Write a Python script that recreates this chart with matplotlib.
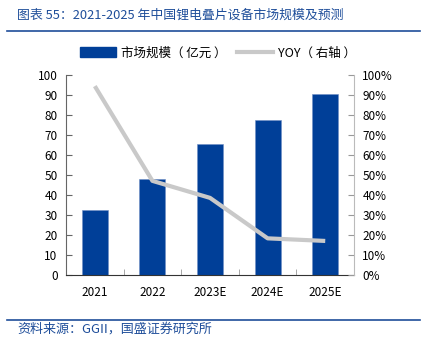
import matplotlib
matplotlib.use("Agg")
import matplotlib.pyplot as plt
from matplotlib.lines import Line2D
from matplotlib.ticker import PercentFormatter, FixedLocator

plt.rcParams['font.family'] = ['Noto Sans CJK SC', 'DejaVu Sans']

# data
years = ['2021', '2022', '2023E', '2024E', '2025E']
market = [32.5, 48, 65.5, 77.5, 90.5]      # 市场规模（亿元）
yoy = [94.3, 47, 38.5, 18.3, 17]           # YOY %

blue = '#003f98'
grey = '#c9c9c9'
title_blue = '#1f4e9a'

fig = plt.figure(figsize=(4.24, 3.48), dpi=100)
ax = fig.add_axes([0.1557, 0.2098, 0.6793, 0.5755])

x = range(len(years))
ax.bar(x, market, width=0.45, color=blue, edgecolor='#6f8fc4', linewidth=0.4, zorder=2)
ax.set_xlim(-0.5, len(years) - 0.5)
ax.set_ylim(0, 100)
ax.set_yticks(range(0, 101, 10))
ax.set_xticks(list(x))
ax.set_xticklabels(years)
ax.xaxis.set_minor_locator(FixedLocator([i + 0.5 for i in range(len(years) - 1)]))
ax.tick_params(axis='x', which='major', length=0, pad=8, labelsize=8.5)
ax.tick_params(axis='x', which='minor', direction='in', length=4, color='#999999')
ax.tick_params(axis='y', direction='in', length=4, color='#666666', labelsize=8.5, pad=6)

ax2 = ax.twinx()
ax2.plot(x, yoy, color=grey, linewidth=3, solid_capstyle='butt', zorder=3)
ax2.set_ylim(0, 100)
ax2.set_yticks(range(0, 101, 10))
ax2.yaxis.set_major_formatter(PercentFormatter(decimals=0))
ax2.tick_params(axis='y', direction='in', length=4, color='#999999', labelsize=8.5, pad=6)

for a in (ax, ax2):
    a.spines['top'].set_visible(False)
ax.spines['right'].set_visible(False)
ax.spines['left'].set_color('#666666')
ax.spines['bottom'].set_color('#333333')
ax2.spines['left'].set_visible(False)
ax2.spines['bottom'].set_visible(False)
ax2.spines['right'].set_color('#bbbbbb')

handles = [plt.Rectangle((0, 0), 1, 1, color=blue),
           Line2D([0], [0], color=grey, linewidth=3)]
fig.legend(handles, ['市场规模（ 亿元 ）', 'YOY（ 右轴 ）'], loc='center',
           bbox_to_anchor=(0.514, 0.848), ncol=2, frameon=False, fontsize=9,
           handlelength=2.9, handleheight=0.9, columnspacing=0.8, handletextpad=0.4)

fig.text(0.04, 0.955, '图表 55：2021-2025 年中国锂电叠片设备市场规模及预测',
         color=title_blue, fontsize=9.3, va='center', ha='left', style='italic')
fig.add_artist(Line2D([0.017, 0.99], [0.91, 0.91], color=title_blue, linewidth=1.2))
fig.add_artist(Line2D([0.017, 0.99], [0.08, 0.08], color=title_blue, linewidth=1.2))
fig.text(0.04, 0.055, '资料来源：GGII，国盛证券研究所', color=title_blue,
         fontsize=9.4, va='center', ha='left', style='italic')

fig.savefig('out.png', dpi=100)
